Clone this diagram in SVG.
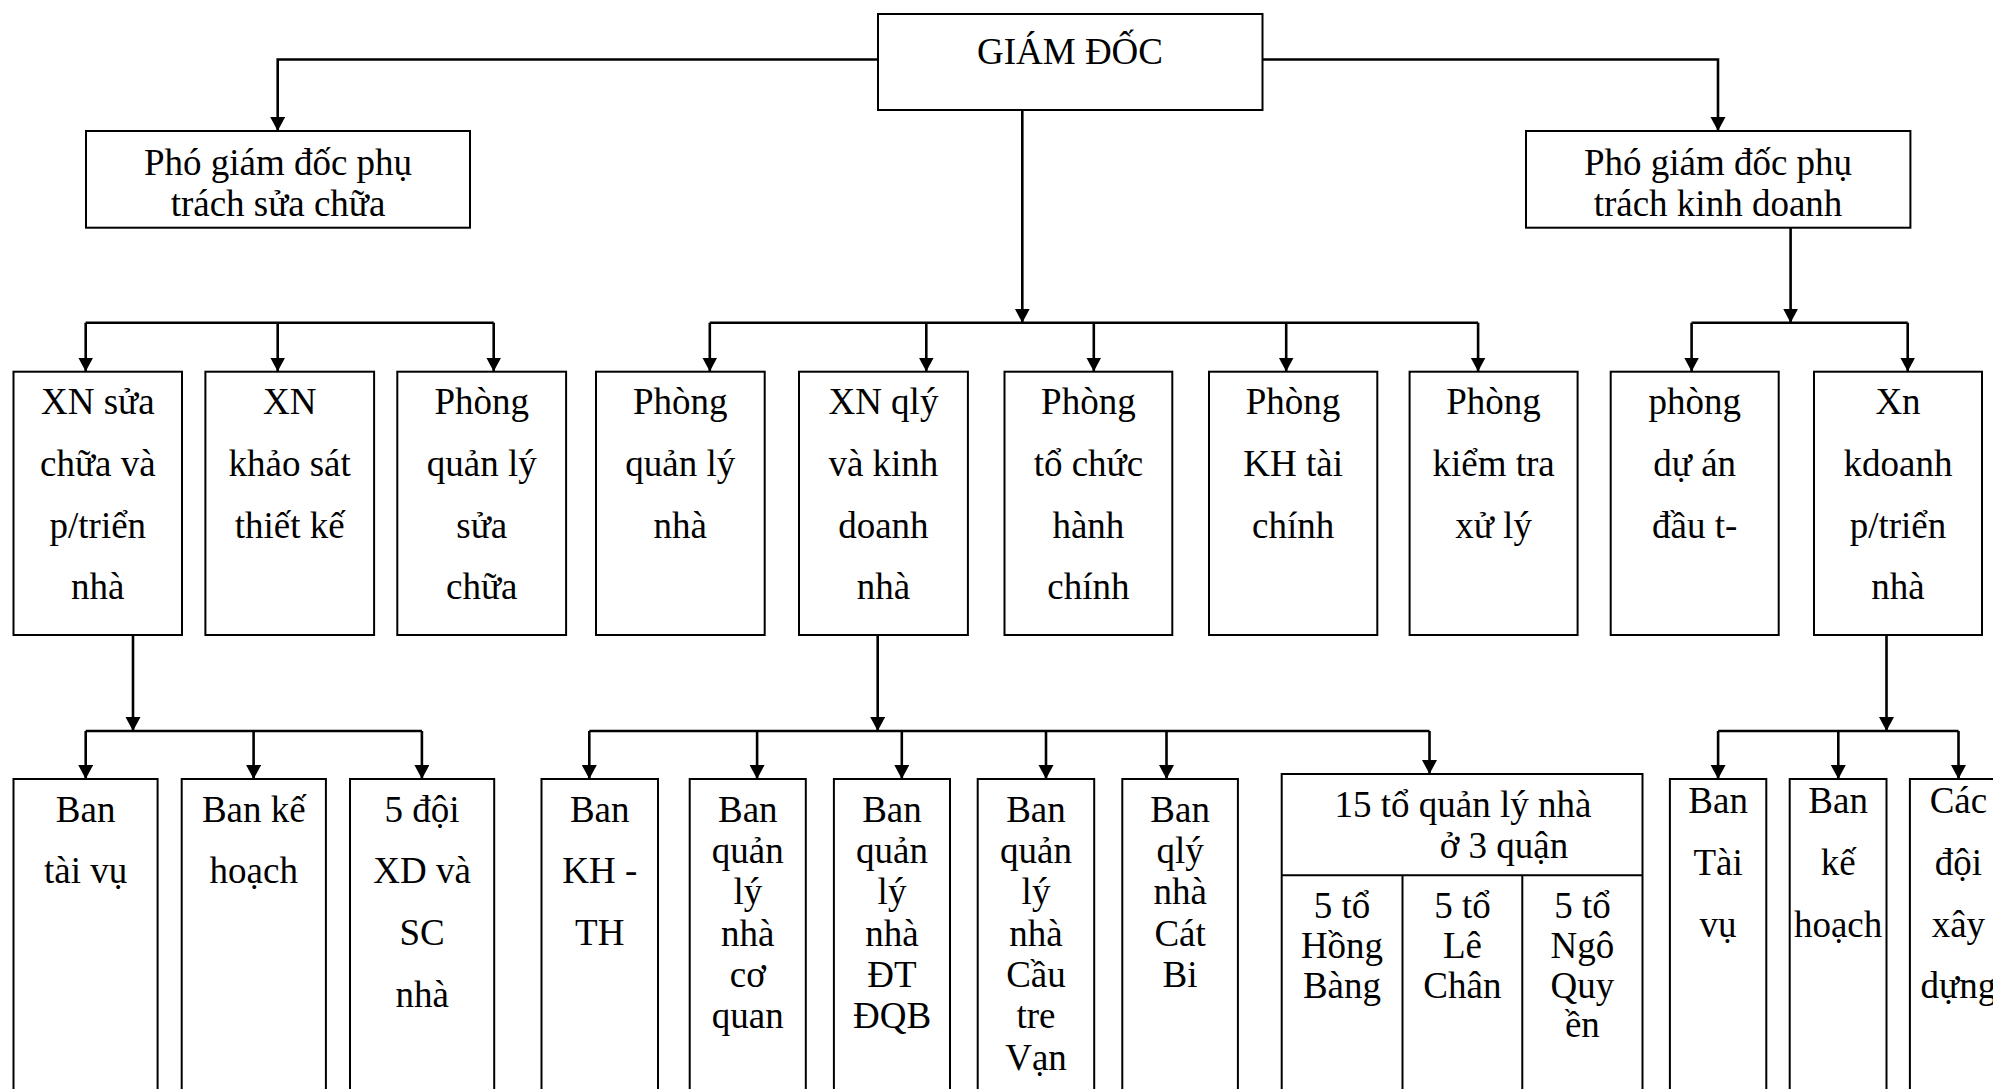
<svg xmlns="http://www.w3.org/2000/svg" width="1993" height="1089" viewBox="0 0 1993 1089">
  <style>
    .box { fill: #ffffff; stroke: #000000; stroke-width: 2; }
    .div { fill: none; stroke: #000000; stroke-width: 2; }
    .lbl { font-family: "Liberation Serif", "Times New Roman", serif; font-size: 37px; fill: #000000; text-anchor: middle; }
    .wire { fill: none; stroke: #000000; stroke-width: 2.6; }
    .arr { fill: none; stroke: #000000; stroke-width: 2.6; marker-end: url(#head); }
  </style>
  <defs>
    <marker id="head" markerUnits="userSpaceOnUse" markerWidth="15" markerHeight="16" refX="14" refY="7.5" orient="auto">
      <path d="M0,0 L14,7.5 L0,15 z" fill="#000000"/>
    </marker>
  </defs>
  <rect width="1993" height="1089" fill="#ffffff"/>

  <!-- connectors -->
  <g id="connectors">
    <!-- director to deputies -->
    <path class="arr" d="M878,59.5 H277.7 V131"/>
    <path class="arr" d="M1262.5,59.5 H1718 V131"/>
    <!-- director to central departments -->
    <path class="arr" d="M1022.3,110 V322.7"/>
    <path class="wire" d="M709.8,322.7 H1478.1"/>
    <path class="arr" d="M709.8,322.7 V371.5"/>
    <path class="arr" d="M926.3,322.7 V371.5"/>
    <path class="arr" d="M1093.8,322.7 V371.5"/>
    <path class="arr" d="M1286.2,322.7 V371.5"/>
    <path class="arr" d="M1478.1,322.7 V371.5"/>
    <!-- repair branch bus -->
    <path class="wire" d="M85.7,322.7 H493.7"/>
    <path class="arr" d="M85.7,322.7 V371.5"/>
    <path class="arr" d="M277.7,322.7 V371.5"/>
    <path class="arr" d="M493.7,322.7 V371.5"/>
    <!-- business branch -->
    <path class="arr" d="M1790.6,227.7 V322.7"/>
    <path class="wire" d="M1691.6,322.7 H1907.7"/>
    <path class="arr" d="M1691.6,322.7 V371.5"/>
    <path class="arr" d="M1907.7,322.7 V371.5"/>
    <!-- repair enterprise units -->
    <path class="arr" d="M133,635 V731"/>
    <path class="wire" d="M85.7,731 H421.9"/>
    <path class="arr" d="M85.7,731 V779"/>
    <path class="arr" d="M253.6,731 V779"/>
    <path class="arr" d="M421.9,731 V779"/>
    <!-- housing management units -->
    <path class="arr" d="M877.7,635 V731"/>
    <path class="wire" d="M589.3,731 H1429.5"/>
    <path class="arr" d="M589.3,731 V779"/>
    <path class="arr" d="M757.1,731 V779"/>
    <path class="arr" d="M901.8,731 V779"/>
    <path class="arr" d="M1046,731 V779"/>
    <path class="arr" d="M1166.5,731 V779"/>
    <path class="arr" d="M1429.5,731 V774"/>
    <!-- housing business units -->
    <path class="arr" d="M1886.5,635 V731"/>
    <path class="wire" d="M1718.1,731 H1958.5"/>
    <path class="arr" d="M1718.1,731 V779"/>
    <path class="arr" d="M1838.3,731 V779"/>
    <path class="arr" d="M1958.5,731 V779"/>
  </g>

  <!-- top level -->
  <g id="giam-doc">
    <rect class="box" x="878" y="14" width="384.5" height="96"/>
    <text class="lbl" x="1070" y="64">GIÁM ĐỐC</text>
  </g>
  <g id="pgd-sua-chua">
    <rect class="box" x="86" y="131" width="384" height="96.7"/>
    <text class="lbl" x="278" y="175">Phó giám đốc phụ</text>
    <text class="lbl" x="278" y="216">trách sửa chữa</text>
  </g>
  <g id="pgd-kinh-doanh">
    <rect class="box" x="1526" y="131" width="384.4" height="96.7"/>
    <text class="lbl" x="1718" y="175">Phó giám đốc phụ</text>
    <text class="lbl" x="1718" y="216">trách kinh doanh</text>
  </g>

  <!-- second level -->
  <g id="xn-sua-chua">
    <rect class="box" x="13.5" y="371.7" width="168.5" height="263.3"/>
    <text class="lbl" x="97.8" y="414">XN sửa</text>
    <text class="lbl" x="97.8" y="476">chữa và</text>
    <text class="lbl" x="97.8" y="537.7">p/triển</text>
    <text class="lbl" x="97.8" y="599.3">nhà</text>
  </g>
  <g id="xn-khao-sat">
    <rect class="box" x="205.4" y="371.7" width="168.7" height="263.3"/>
    <text class="lbl" x="289.7" y="414">XN</text>
    <text class="lbl" x="289.7" y="476">khảo sát</text>
    <text class="lbl" x="289.7" y="537.7">thiết kế</text>
  </g>
  <g id="phong-ql-sua-chua">
    <rect class="box" x="397.3" y="371.7" width="168.8" height="263.3"/>
    <text class="lbl" x="481.7" y="414">Phòng</text>
    <text class="lbl" x="481.7" y="476">quản lý</text>
    <text class="lbl" x="481.7" y="537.7">sửa</text>
    <text class="lbl" x="481.7" y="599.3">chữa</text>
  </g>
  <g id="phong-ql-nha">
    <rect class="box" x="596" y="371.7" width="168.7" height="263.3"/>
    <text class="lbl" x="680.3" y="414">Phòng</text>
    <text class="lbl" x="680.3" y="476">quản lý</text>
    <text class="lbl" x="680.3" y="537.7">nhà</text>
  </g>
  <g id="xn-qly-kinh-doanh">
    <rect class="box" x="799" y="371.7" width="168.9" height="263.3"/>
    <text class="lbl" x="883.4" y="414">XN qlý</text>
    <text class="lbl" x="883.4" y="476">và kinh</text>
    <text class="lbl" x="883.4" y="537.7">doanh</text>
    <text class="lbl" x="883.4" y="599.3">nhà</text>
  </g>
  <g id="phong-to-chuc">
    <rect class="box" x="1004.5" y="371.7" width="167.8" height="263.3"/>
    <text class="lbl" x="1088.4" y="414">Phòng</text>
    <text class="lbl" x="1088.4" y="476">tổ chức</text>
    <text class="lbl" x="1088.4" y="537.7">hành</text>
    <text class="lbl" x="1088.4" y="599.3">chính</text>
  </g>
  <g id="phong-kh-tai-chinh">
    <rect class="box" x="1209" y="371.7" width="168.3" height="263.3"/>
    <text class="lbl" x="1293.1" y="414">Phòng</text>
    <text class="lbl" x="1293.1" y="476">KH tài</text>
    <text class="lbl" x="1293.1" y="537.7">chính</text>
  </g>
  <g id="phong-kiem-tra">
    <rect class="box" x="1409.6" y="371.7" width="168" height="263.3"/>
    <text class="lbl" x="1493.6" y="414">Phòng</text>
    <text class="lbl" x="1493.6" y="476">kiểm tra</text>
    <text class="lbl" x="1493.6" y="537.7">xử lý</text>
  </g>
  <g id="phong-du-an">
    <rect class="box" x="1610.7" y="371.7" width="168" height="263.3"/>
    <text class="lbl" x="1694.7" y="414">phòng</text>
    <text class="lbl" x="1694.7" y="476">dự án</text>
    <text class="lbl" x="1694.7" y="537.7">đầu t-</text>
  </g>
  <g id="xn-kdoanh">
    <rect class="box" x="1814" y="371.7" width="168" height="263.3"/>
    <text class="lbl" x="1898" y="414">Xn</text>
    <text class="lbl" x="1898" y="476">kdoanh</text>
    <text class="lbl" x="1898" y="537.7">p/triển</text>
    <text class="lbl" x="1898" y="599.3">nhà</text>
  </g>

  <!-- third level: repair enterprise -->
  <g id="ban-tai-vu">
    <rect class="box" x="13.5" y="779" width="144.1" height="330"/>
    <text class="lbl" x="85.6" y="821.7">Ban</text>
    <text class="lbl" x="85.6" y="883.3">tài vụ</text>
  </g>
  <g id="ban-ke-hoach">
    <rect class="box" x="181.7" y="779" width="144.2" height="330"/>
    <text class="lbl" x="253.8" y="821.7">Ban kế</text>
    <text class="lbl" x="253.8" y="883.3">hoạch</text>
  </g>
  <g id="doi-xd-sc">
    <rect class="box" x="350" y="779" width="144.2" height="330"/>
    <text class="lbl" x="422.1" y="821.7">5 đội</text>
    <text class="lbl" x="422.1" y="883.3">XD và</text>
    <text class="lbl" x="422.1" y="945">SC</text>
    <text class="lbl" x="422.1" y="1006.7">nhà</text>
  </g>

  <!-- third level: housing management enterprise -->
  <g id="ban-kh-th">
    <rect class="box" x="541.5" y="779" width="116.5" height="330"/>
    <text class="lbl" x="599.7" y="821.7">Ban</text>
    <text class="lbl" x="599.7" y="883.3">KH -</text>
    <text class="lbl" x="599.7" y="945">TH</text>
  </g>
  <g id="ban-ql-co-quan">
    <rect class="box" x="689.7" y="779" width="116.1" height="330"/>
    <text class="lbl" x="747.8" y="821.7">Ban</text>
    <text class="lbl" x="747.8" y="863">quản</text>
    <text class="lbl" x="747.8" y="904.3">lý</text>
    <text class="lbl" x="747.8" y="945.6">nhà</text>
    <text class="lbl" x="747.8" y="986.9">cơ</text>
    <text class="lbl" x="747.8" y="1028.2">quan</text>
  </g>
  <g id="ban-ql-dqb">
    <rect class="box" x="833.9" y="779" width="116.1" height="330"/>
    <text class="lbl" x="892" y="821.7">Ban</text>
    <text class="lbl" x="892" y="863">quản</text>
    <text class="lbl" x="892" y="904.3">lý</text>
    <text class="lbl" x="892" y="945.6">nhà</text>
    <text class="lbl" x="892" y="986.9">ĐT</text>
    <text class="lbl" x="892" y="1028.2">ĐQB</text>
  </g>
  <g id="ban-ql-cau-tre">
    <rect class="box" x="977.7" y="779" width="116.5" height="330"/>
    <text class="lbl" x="1036" y="821.7">Ban</text>
    <text class="lbl" x="1036" y="863">quản</text>
    <text class="lbl" x="1036" y="904.3">lý</text>
    <text class="lbl" x="1036" y="945.6">nhà</text>
    <text class="lbl" x="1036" y="986.9">Cầu</text>
    <text class="lbl" x="1036" y="1028.2">tre</text>
    <text class="lbl" x="1036" y="1069.5">Vạn</text>
  </g>
  <g id="ban-qly-cat-bi">
    <rect class="box" x="1122.3" y="779" width="115.6" height="330"/>
    <text class="lbl" x="1180.1" y="821.7">Ban</text>
    <text class="lbl" x="1180.1" y="863">qlý</text>
    <text class="lbl" x="1180.1" y="904.3">nhà</text>
    <text class="lbl" x="1180.1" y="945.6">Cát</text>
    <text class="lbl" x="1180.1" y="986.9">Bi</text>
  </g>
  <g id="to-quan-ly-nha">
    <rect class="box" x="1281.7" y="774" width="360.8" height="335"/>
    <path class="div" d="M1281.7,875.3 H1642.5 M1402.5,875.3 V1109 M1522.3,875.3 V1109"/>
    <text class="lbl" x="1463" y="816.7">15 tổ quản lý nhà</text>
    <text class="lbl" x="1504" y="858.3">ở 3 quận</text>
    <text class="lbl" x="1342" y="918.3">5 tổ</text>
    <text class="lbl" x="1342" y="958">Hồng</text>
    <text class="lbl" x="1342" y="997.5">Bàng</text>
    <text class="lbl" x="1462.4" y="918.3">5 tổ</text>
    <text class="lbl" x="1462.4" y="958">Lê</text>
    <text class="lbl" x="1462.4" y="997.5">Chân</text>
    <text class="lbl" x="1582.4" y="918.3">5 tổ</text>
    <text class="lbl" x="1582.4" y="958">Ngô</text>
    <text class="lbl" x="1582.4" y="997.5">Quy</text>
    <text class="lbl" x="1582.4" y="1037">ền</text>
  </g>

  <!-- third level: housing business enterprise -->
  <g id="ban-tai-vu-kd">
    <rect class="box" x="1669.9" y="779" width="96.4" height="330"/>
    <text class="lbl" x="1718.1" y="813.3">Ban</text>
    <text class="lbl" x="1718.1" y="875">Tài</text>
    <text class="lbl" x="1718.1" y="936.7">vụ</text>
  </g>
  <g id="ban-ke-hoach-kd">
    <rect class="box" x="1789.7" y="779" width="96.8" height="330"/>
    <text class="lbl" x="1838.1" y="813.3">Ban</text>
    <text class="lbl" x="1838.1" y="875">kế</text>
    <text class="lbl" x="1838.1" y="936.7">hoạch</text>
  </g>
  <g id="cac-doi-xay-dung">
    <rect class="box" x="1909.9" y="779" width="97" height="330"/>
    <text class="lbl" x="1958.4" y="813.3">Các</text>
    <text class="lbl" x="1958.4" y="875">đội</text>
    <text class="lbl" x="1958.4" y="936.7">xây</text>
    <text class="lbl" x="1958.4" y="998">dựng</text>
  </g>
</svg>
